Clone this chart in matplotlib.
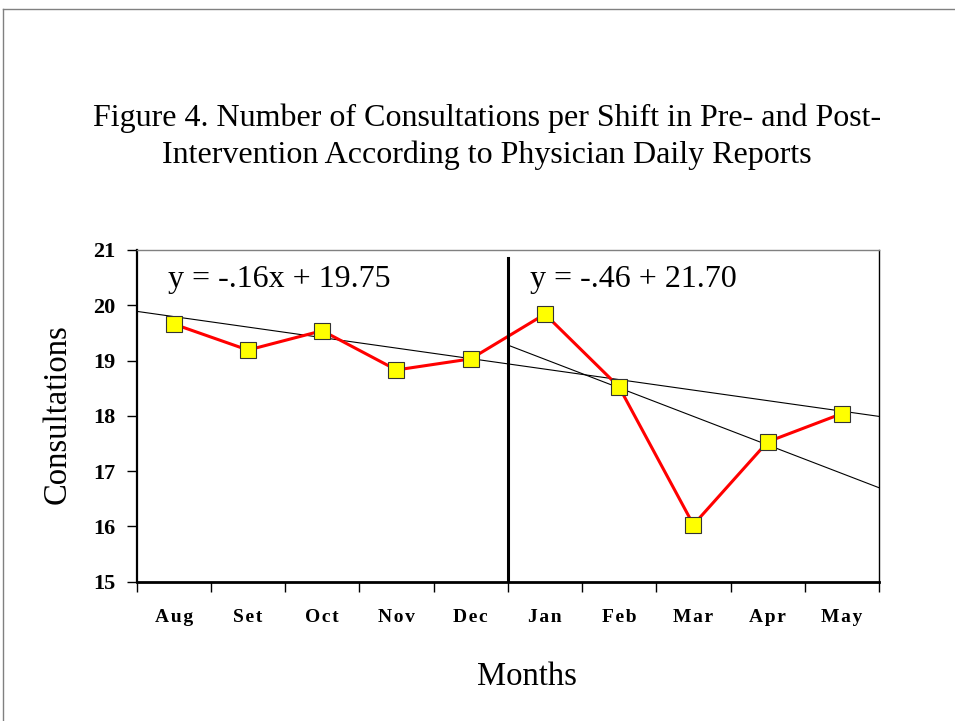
import matplotlib
matplotlib.use('Agg')
import matplotlib.pyplot as plt
from matplotlib.lines import Line2D
import numpy as np

# data
months = ['Aug', 'Set', 'Oct', 'Nov', 'Dec', 'Jan', 'Feb', 'Mar', 'Apr', 'May']
consultations = [19.66, 19.19, 19.54, 18.83, 19.03, 19.84, 18.52, 16.03, 17.53, 18.04]
# trend line values at the start and end of each drawn segment
pre_trend_x = [-0.5, 9.5]
pre_trend_y = [19.89, 17.99]
post_trend_x = [4.5, 9.5]
post_trend_y = [19.28, 16.70]
intervention_x = 4.5
pre_eq = 'y = -.16x + 19.75'
post_eq = 'y = -.46 + 21.70'

plt.rcParams['font.family'] = ['Liberation Serif', 'DejaVu Serif']

fig = plt.figure(figsize=(9.55, 7.21), dpi=100)
ax = fig.add_axes([0.1431, 0.1932, 0.7773, 0.4601])

x = np.arange(len(months))
ax.plot(pre_trend_x, pre_trend_y, color='black', lw=0.8, zorder=2)
ax.plot(post_trend_x, post_trend_y, color='black', lw=0.8, zorder=2)
ax.plot(x, consultations, color='#ff0000', lw=2.2, marker='s', markersize=11,
        markerfacecolor='#ffff00', markeredgecolor='#333333', markeredgewidth=0.8,
        zorder=3)
ax.plot([intervention_x, intervention_x], [15, 20.86], color='black', lw=2.2, zorder=4)

ax.set_xlim(-0.5, len(months) - 0.5)
ax.set_ylim(15, 21)
ax.set_yticks(range(15, 22))
ax.set_xticks(np.arange(-0.5, len(months)), minor=False, labels=[''] * (len(months) + 1))
ax.set_xticks(x, minor=True, labels=['\u200a'.join(m) for m in months])
ax.tick_params(axis='x', which='major', direction='out', length=7, width=1)
ax.tick_params(axis='x', which='minor', length=0, pad=20, labelsize=14)
ax.tick_params(axis='y', direction='out', length=7, width=1, pad=8, labelsize=16)
for lab in ax.get_xticklabels(minor=True) + ax.get_yticklabels():
    lab.set_fontweight('bold')

ax.spines['left'].set_linewidth(1.6)
ax.spines['bottom'].set_linewidth(2.0)
ax.spines['top'].set_color('#808080')
ax.spines['top'].set_linewidth(1.0)
ax.spines['right'].set_linewidth(1.0)

ax.text(0.042, 0.91, pre_eq, transform=ax.transAxes, fontsize=23, va='center')
ax.text(0.53, 0.91, post_eq, transform=ax.transAxes, fontsize=23, va='center')

fig.text(0.51, 0.81, 'Figure 4. Number of Consultations per Shift in Pre- and Post-\n'
         'Intervention According to Physician Daily Reports',
         ha='center', va='center', fontsize=23, linespacing=1.33)
fig.text(0.06, 0.425, 'Consultations', rotation=90, ha='center', va='center', fontsize=23.5)
fig.text(0.552, 0.062, 'Months', ha='center', va='center', fontsize=23.5)

# slide frame
fig.add_artist(Line2D([0.003, 1.0], [0.9875, 0.9875], color='#808080', lw=1.0))
fig.add_artist(Line2D([0.003, 0.003], [0.0, 0.9875], color='#808080', lw=1.0))

fig.savefig('out.png', dpi=100)
plt.close()
